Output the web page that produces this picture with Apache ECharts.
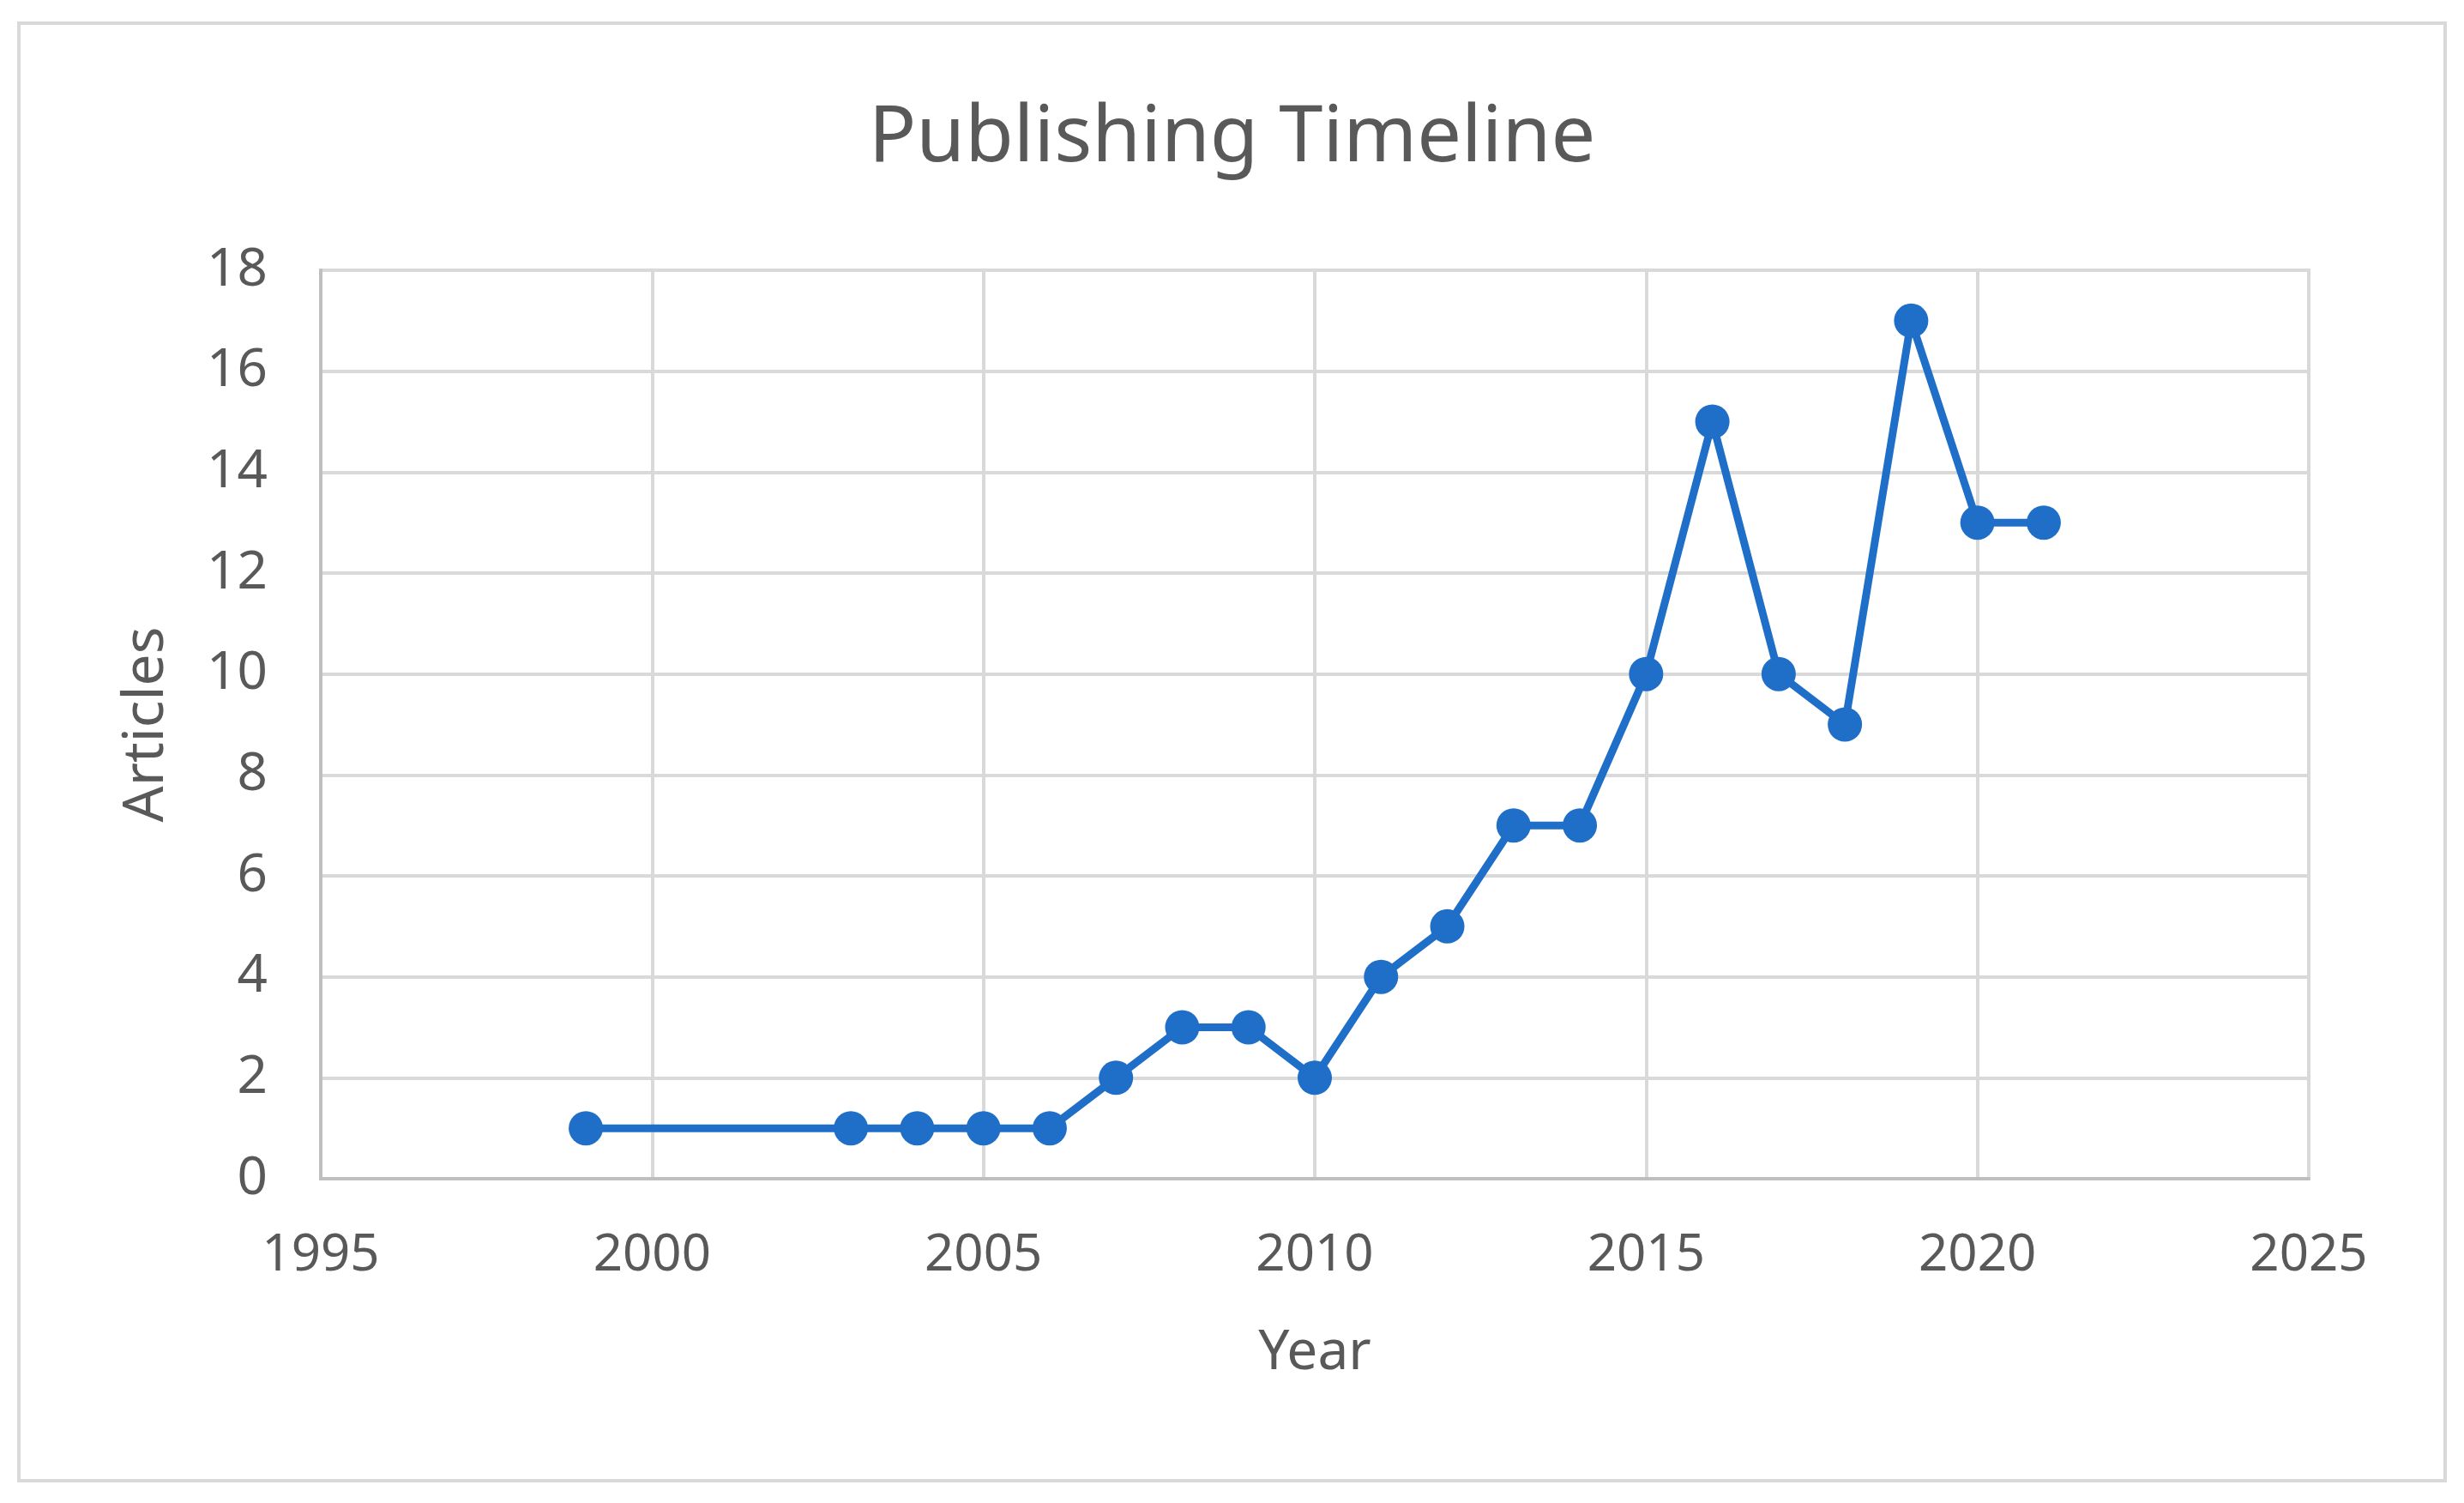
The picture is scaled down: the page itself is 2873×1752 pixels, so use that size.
<!DOCTYPE html>
<html>
<head>
<meta charset="utf-8">
<title>Publishing Timeline</title>
<script src="https://cdn.jsdelivr.net/npm/echarts@6/dist/echarts.min.js"></script>
<style>
  html, body { margin: 0; padding: 0; background: #fff; }
  #chart { width: 2873px; height: 1752px; }
</style>
</head>
<body>
<div id="chart"></div>
<script>
// articles per year
const years = [1999, 2003, 2004, 2005, 2006, 2007, 2008, 2009, 2010, 2011,
  2012, 2013, 2014, 2015, 2016, 2017, 2018, 2019, 2020, 2021]
const articles = [1, 1, 1, 1, 1, 2, 3, 3, 2, 4,
  5, 7, 7, 10, 15, 10, 9, 17, 13, 13]

const textColor = '#595959'
const gridColor = '#d9d9d9'
const fontFamily = '"Noto Sans", "Open Sans", sans-serif'

const chart = echarts.init(document.getElementById('chart'), null, { renderer: 'canvas' })

chart.setOption({
  backgroundColor: '#fff',
  animation: false,
  textStyle: { fontFamily: fontFamily },
  graphic: [{
    type: 'rect',
    shape: { x: 22, y: 27, width: 2829, height: 1699 },
    style: { fill: 'none', stroke: gridColor, lineWidth: 4 },
    silent: true
  }],
  title: {
    text: 'Publishing Timeline',
    left: 'center',
    top: 111,
    textStyle: { color: textColor, fontSize: 92, fontWeight: 'normal', fontFamily: fontFamily }
  },
  grid: {
    left: 374,
    right: 181,
    top: 315,
    bottom: 378,
    show: true,
    borderColor: gridColor,
    borderWidth: 4
  },
  xAxis: {
    type: 'value',
    min: 1995,
    max: 2025,
    interval: 5,
    name: 'Year',
    nameLocation: 'middle',
    nameGap: 172,
    nameTextStyle: { color: textColor, fontSize: 64 },
    axisLine: { show: true, lineStyle: { color: '#bfbfbf', width: 4 } },
    axisTick: { show: false },
    axisLabel: { color: textColor, fontSize: 60, margin: 60, formatter: v => String(v) },
    splitLine: { show: true, lineStyle: { color: gridColor, width: 4 } }
  },
  yAxis: {
    type: 'value',
    min: 0,
    max: 18,
    interval: 2,
    name: 'Articles',
    nameLocation: 'middle',
    nameGap: 170,
    nameTextStyle: { color: textColor, fontSize: 66 },
    axisLine: { show: true, lineStyle: { color: '#bfbfbf', width: 4 } },
    axisTick: { show: false },
    axisLabel: { color: textColor, fontSize: 62, margin: 62 },
    splitLine: { show: true, lineStyle: { color: gridColor, width: 4 } }
  },
  series: [{
    name: 'Articles',
    type: 'line',
    data: years.map((y, i) => [y, articles[i]]),
    symbol: 'circle',
    symbolSize: 40,
    lineStyle: { color: '#1f6fc9', width: 9 },
    itemStyle: { color: '#1f6fc9' }
  }]
})
</script>
</body>
</html>
